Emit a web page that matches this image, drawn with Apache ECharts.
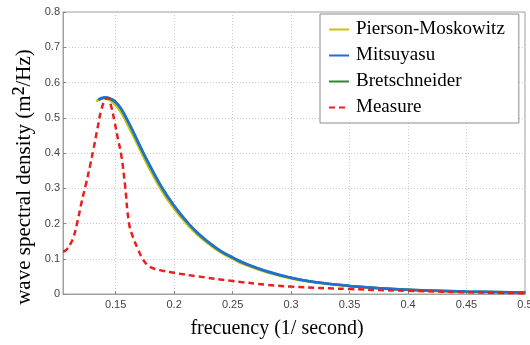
<!DOCTYPE html>
<html>
<head>
<meta charset="utf-8">
<script src="https://cdn.jsdelivr.net/npm/echarts@6/dist/echarts.min.js"></script>
<style>html,body{margin:0;padding:0;background:#fff;}#c{width:530px;height:345px;}</style>
</head>
<body>
<div id="c"></div>
<script>
// Pierson-Moskowitz (yellow)
const pmX = [0.1335,0.136,0.139,0.142,0.145,0.15,0.155,0.16,0.165,0.17,0.175,0.18,0.19,0.2,0.21,0.22,0.23,0.24,0.25,0.26,0.28,0.3,0.32,0.35,0.4,0.45,0.5];
const pmY = [0.546,0.552,0.555,0.554,0.550,0.536,0.513,0.482,0.449,0.415,0.381,0.349,0.290,0.242,0.202,0.168,0.141,0.118,0.100,0.084,0.061,0.044,0.033,0.022,0.011,0.006,0.003];
// Mitsuyasu (blue)
const miX = [0.1355,0.138,0.141,0.145,0.15,0.155,0.16,0.165,0.17,0.175,0.18,0.19,0.2,0.21,0.22,0.23,0.24,0.25,0.26,0.28,0.3,0.32,0.35,0.4,0.45,0.5];
const miY = [0.551,0.556,0.558,0.555,0.545,0.524,0.494,0.461,0.426,0.392,0.360,0.300,0.251,0.209,0.174,0.146,0.122,0.104,0.088,0.064,0.046,0.034,0.023,0.012,0.007,0.004];
// Bretschneider (green)
const brX = [0.1352,0.138,0.141,0.145,0.15,0.155,0.16,0.165,0.17,0.175,0.18,0.19,0.2,0.21,0.22,0.23,0.24,0.25,0.26,0.28,0.3,0.32,0.35,0.4,0.45,0.5];
const brY = [0.550,0.555,0.557,0.554,0.544,0.523,0.493,0.460,0.425,0.391,0.359,0.299,0.250,0.208,0.173,0.145,0.121,0.103,0.087,0.063,0.046,0.034,0.023,0.012,0.007,0.004];
// Measure (red dashed)
const meX = [0.105,0.108,0.111,0.114,0.117,0.121,0.1245,0.128,0.131,0.1345,0.138,0.1415,0.1435,0.146,0.149,0.152,0.155,0.158,0.1615,0.165,0.169,0.173,0.177,0.182,0.19,0.2,0.22,0.25,0.28,0.3,0.35,0.4,0.45,0.5];
const meY = [0.120,0.126,0.140,0.162,0.200,0.262,0.310,0.362,0.410,0.470,0.525,0.553,0.556,0.535,0.490,0.440,0.390,0.310,0.200,0.160,0.128,0.100,0.083,0.073,0.066,0.060,0.050,0.037,0.026,0.021,0.014,0.009,0.005,0.002];
const yTicks = [0,0.1,0.2,0.3,0.4,0.5,0.6,0.7,0.8];
const legendNames = ['Pierson-Moskowitz','Mitsuyasu','Bretschneider','Measure'];

function pairs(xs, ys){ return xs.map((x,i)=>[x, ys[i]]); }

const chart = echarts.init(document.getElementById('c'));
const serif = '"Liberation Serif","DejaVu Serif",serif';
chart.setOption({
  animation:false,
  backgroundColor:'#fff',
  grid:{left:63,right:5,top:12,bottom:51,show:true,borderColor:'#a0a0a0',borderWidth:1,containLabel:false,outerBoundsMode:'none'},
  legend:{
    data:legendNames,
    orient:'vertical',
    left:320, top:14,
    backgroundColor:'#fff',
    borderColor:'#8c8c8c', borderWidth:1, borderRadius:0,
    padding:[6,14,6,8],
    itemWidth:20, itemHeight:19, itemGap:7,
    itemStyle:{opacity:0},
    textStyle:{fontFamily:serif,fontSize:19,color:'#000',padding:[0,0,0,2]}
  },
  xAxis:{
    type:'value', min:0.105, max:0.5, splitNumber:8,
    name:'frecuency (1/ second)', nameLocation:'middle', nameGap:25, nameMoveOverlap:false,
    nameTextStyle:{fontFamily:serif,fontSize:20,color:'#000',padding:[0,34,0,0]},
    axisLine:{show:true,onZero:false,lineStyle:{color:'#a0a0a0'}},
    axisTick:{show:true,inside:true,length:3,lineStyle:{color:'#888'}},
    axisLabel:{showMinLabel:false,fontFamily:'"Liberation Sans",Arial,sans-serif',fontSize:11,color:'#444',margin:5},
    splitLine:{show:true,lineStyle:{color:'#cccccc',type:[1,2]}}
  },
  yAxis:{
    type:'value', min:yTicks[0], max:yTicks[yTicks.length-1], interval:0.1,
    name:'{t|wave spectral density (m}{s|²}{t|/Hz)}', nameLocation:'middle', nameGap:24, nameMoveOverlap:false,
    nameTextStyle:{padding:[0,48,0,0],rich:{
      t:{fontFamily:serif,fontSize:21,color:'#000'},
      s:{fontFamily:serif,fontSize:30,color:'#000'}
    }},
    axisLine:{show:true,lineStyle:{color:'#a0a0a0'}},
    axisTick:{show:true,inside:true,length:3,lineStyle:{color:'#888'}},
    axisLabel:{fontFamily:'"Liberation Sans",Arial,sans-serif',fontSize:11,color:'#444',margin:3},
    splitLine:{show:true,lineStyle:{color:'#cccccc',type:[1,2]}}
  },
  series:[
    {name:'Pierson-Moskowitz',type:'line',data:pairs(pmX,pmY),smooth:true,symbol:'none',z:2,lineStyle:{color:'#c8c214',width:2.5},itemStyle:{color:'#c8c214'}},
    {name:'Bretschneider',type:'line',data:pairs(brX,brY),smooth:true,symbol:'none',z:3,lineStyle:{color:'#2a8a2a',width:2.5},itemStyle:{color:'#2a8a2a'}},
    {name:'Mitsuyasu',type:'line',data:pairs(miX,miY),smooth:true,symbol:'none',z:4,lineStyle:{color:'#1f6fd8',width:2.5},itemStyle:{color:'#1f6fd8'}},
    {name:'Measure',type:'line',data:pairs(meX,meY),smooth:true,symbol:'none',z:5,lineStyle:{color:'#e8201e',width:2.5,type:[6,4]},itemStyle:{color:'#e8201e'}}
  ]
});
</script>
</body>
</html>
